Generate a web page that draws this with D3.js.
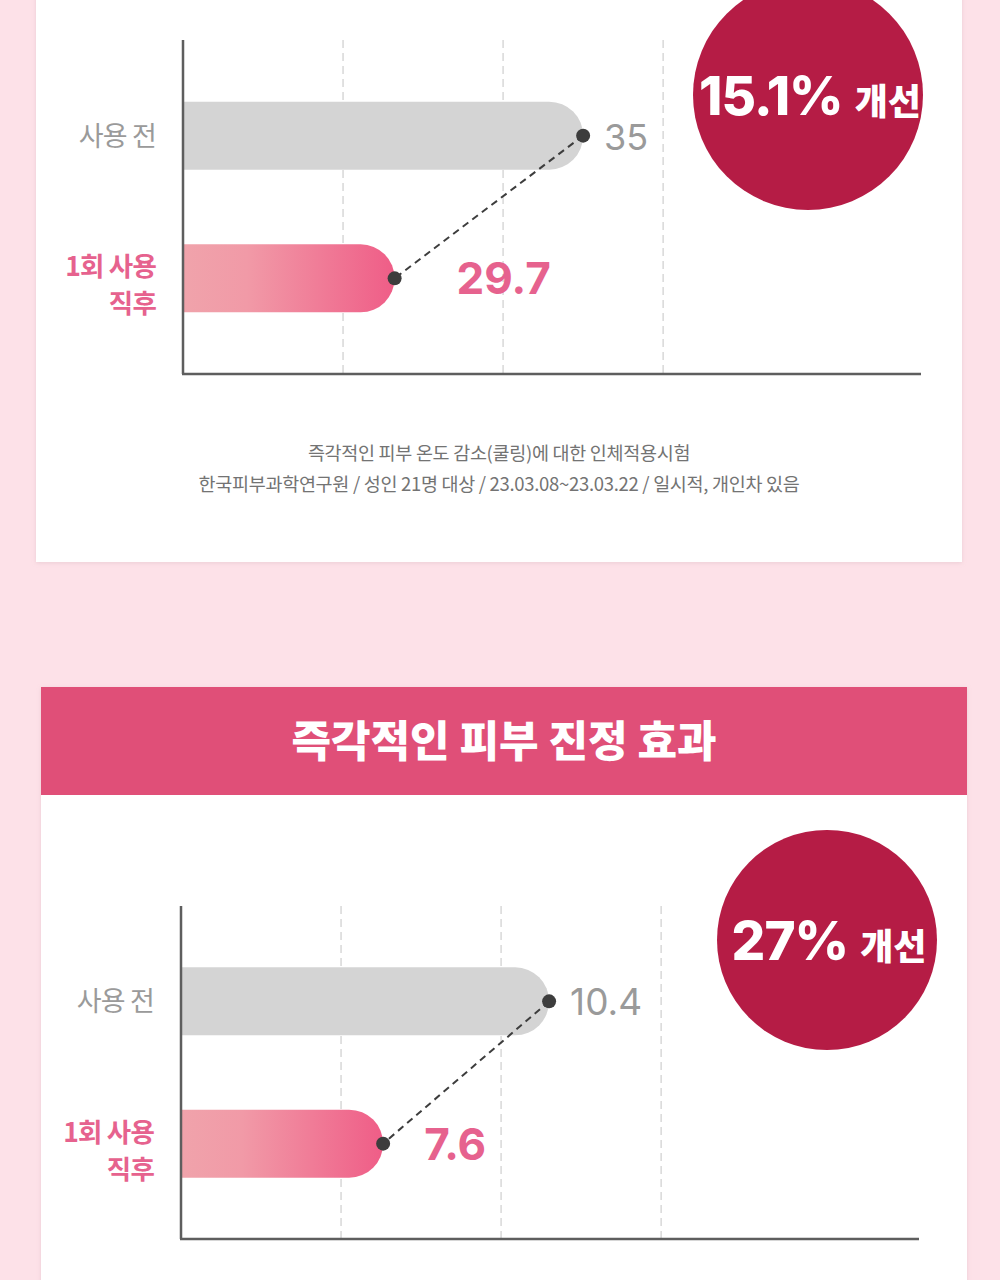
<!DOCTYPE html>
<html>
<head>
<meta charset="utf-8">
<script src="https://cdn.jsdelivr.net/npm/d3@7"></script>
<style>
  html, body { margin: 0; padding: 0; background: #fde1e8; }
  svg { display: block; }
</style>
</head>
<body>
<div id="chart"></div>
<script>
// ---------- DATA ----------
const categories = ["사용 전", "1회 사용 직후"];
const categoryLines = [["사용 전"], ["1회 사용", "직후"]];
const coolingValues = [35, 29.7];
const soothingValues = [10.4, 7.6];
const coolingDomain = [23.75, 44.5];
const soothingDomain = [4.19, 16.64];
const coolingGrid = [28.25, 32.75, 37.25];
const soothingGrid = [6.89, 9.59, 12.29];
const valueLabels1 = ["35", "29.7"];
const valueLabels2 = ["10.4", "7.6"];
const improvementPct = ["15.1%", "27%"];
const improvementWord = "개선";
const sectionTitle = "즉각적인 피부 진정 효과";
const footnotes = [
  "즉각적인 피부 온도 감소(쿨링)에 대한 인체적용시험",
  "한국피부과학연구원 / 성인 21명 대상 / 23.03.08~23.03.22 / 일시적, 개인차 있음"
];

// ---------- STYLE ----------
const W = 1000, H = 1280;
const KR = "'Noto Sans CJK KR', 'Noto Sans', sans-serif";
const NUM = "Inter, 'Noto Sans CJK KR', sans-serif";
const pinkText = "#e6628e";
const grayText = "#9a9a9a";
const circleColor = "#b51c45";

const svg = d3.select("#chart").append("svg")
  .attr("width", W).attr("height", H);

const defs = svg.append("defs");
const grad = defs.append("linearGradient").attr("id", "pinkGrad")
  .attr("x1", "0%").attr("x2", "100%").attr("y1", "0%").attr("y2", "0%");
grad.append("stop").attr("offset", "0%").attr("stop-color", "#f0a3ab");
grad.append("stop").attr("offset", "30%").attr("stop-color", "#f19aa7");
grad.append("stop").attr("offset", "100%").attr("stop-color", "#ef5d87");

const sh = defs.append("filter").attr("id", "cardShadow")
  .attr("x", "-5%").attr("y", "-5%").attr("width", "110%").attr("height", "110%");
sh.append("feDropShadow").attr("dx", 0).attr("dy", 1).attr("stdDeviation", 2)
  .attr("flood-color", "#c9a9b1").attr("flood-opacity", 0.35);

// background
svg.append("rect").attr("width", W).attr("height", H).attr("fill", "#fde1e8");

// cards
svg.append("rect").attr("x", 36).attr("y", -20).attr("width", 926).attr("height", 582)
  .attr("fill", "#fff").attr("filter", "url(#cardShadow)");
svg.append("rect").attr("x", 41).attr("y", 687).attr("width", 926).attr("height", 620)
  .attr("fill", "#fff").attr("filter", "url(#cardShadow)");
svg.append("rect").attr("x", 41).attr("y", 687).attr("width", 926).attr("height", 108)
  .attr("fill", "#e04f78");
svg.append("text").attr("x", 504).attr("y", 757)
  .attr("text-anchor", "middle").attr("fill", "#fff")
  .attr("font-family", KR).attr("font-weight", 900).attr("font-size", 43)
  .text(sectionTitle);

// footnotes
svg.selectAll("text.foot").data(footnotes).enter().append("text")
  .attr("class", "foot")
  .attr("x", 499).attr("y", (d, i) => 460 + i * 31)
  .attr("text-anchor", "middle").attr("fill", "#737373")
  .attr("font-family", KR).attr("font-size", 18.5)
  .attr("letter-spacing", -0.3)
  .text(d => d);

function drawChart(cfg) {
  const g = svg.append("g");
  const x = d3.scaleLinear().domain(cfg.domain).range([cfg.x0, cfg.x1]);
  const y = d3.scalePoint().domain(categories).range([cfg.yTop, cfg.yBot]).padding(0.67);
  const barH = 68, r = barH / 2;

  // grid
  g.selectAll("line.grid").data(cfg.grid).enter().append("line")
    .attr("x1", d => x(d)).attr("x2", d => x(d))
    .attr("y1", cfg.yTop).attr("y2", cfg.yBot)
    .attr("stroke", "#d8d8d8").attr("stroke-width", 1.5)
    .attr("stroke-dasharray", "8,5");

  // bars
  g.selectAll("path.bar").data(cfg.values).enter().append("path")
    .attr("d", (d, i) => {
      const x0 = x(cfg.domain[0]), x1 = x(d), y0 = y(categories[i]) - barH / 2;
      return `M${x0},${y0} H${x1 - r} A${r},${r} 0 0 1 ${x1 - r},${y0 + barH} H${x0} Z`;
    })
    .attr("fill", (d, i) => i === 0 ? "#d4d4d4" : "url(#pinkGrad)");

  // axes
  g.append("line").attr("x1", cfg.x0).attr("x2", cfg.x0)
    .attr("y1", cfg.yTop).attr("y2", cfg.yBot)
    .attr("stroke", "#5e5e5e").attr("stroke-width", 2.5);
  g.append("line").attr("x1", cfg.x0 - 1).attr("x2", cfg.x1)
    .attr("y1", cfg.yBot).attr("y2", cfg.yBot)
    .attr("stroke", "#5e5e5e").attr("stroke-width", 2.5);

  // connector
  const pts = cfg.values.map((v, i) => [x(v), y(categories[i])]);
  g.append("line")
    .attr("x1", pts[0][0]).attr("y1", pts[0][1])
    .attr("x2", pts[1][0]).attr("y2", pts[1][1])
    .attr("stroke", "#3d3d3d").attr("stroke-width", 2)
    .attr("stroke-dasharray", "7,5");
  g.selectAll("circle.dot").data(pts).enter().append("circle")
    .attr("cx", d => d[0]).attr("cy", d => d[1]).attr("r", 7)
    .attr("fill", "#3d3d3d");

  // value labels
  g.selectAll("text.val").data(cfg.values).enter().append("text")
    .attr("x", (d, i) => x(d) + (i === 0 ? 21 : cfg.pinkGap))
    .attr("y", (d, i) => y(categories[i]) + (i === 0 ? 14 : 16))
    .attr("fill", (d, i) => i === 0 ? grayText : pinkText)
    .attr("font-family", NUM)
    .attr("font-weight", (d, i) => i === 0 ? 400 : 700)
    .attr("font-size", (d, i) => i === 0 ? cfg.grayFs : cfg.pinkFs)
    .text((d, i) => cfg.labels[i]);

  // category labels
  categories.forEach((c, i) => {
    const lines = categoryLines[i];
    const cy = y(c);
    lines.forEach((l, k) => {
      const ly = lines.length === 1 ? cy + 10 : cy - 2 + k * 37;
      g.append("text")
        .attr("x", cfg.x0 - 27).attr("y", ly)
        .attr("text-anchor", "end")
        .attr("fill", i === 0 ? grayText : pinkText)
        .attr("font-family", KR)
        .attr("font-weight", i === 0 ? 400 : 700)
        .attr("font-size", i === 0 ? 27 : 26.5)
        .attr("letter-spacing", -0.8)
        .text(l);
    });
  });

  // improvement circle
  g.append("circle").attr("cx", cfg.cx).attr("cy", cfg.cy).attr("r", cfg.cr)
    .attr("fill", circleColor);
  const t = g.append("text").attr("x", cfg.cx + 2).attr("y", cfg.cy + 20)
    .attr("text-anchor", "middle").attr("fill", "#fff");
  t.append("tspan").attr("font-family", NUM).attr("font-size", 53)
    .attr("font-weight", 800).attr("letter-spacing", -1).text(cfg.pct);
  t.append("tspan").attr("font-family", KR).attr("font-size", 36)
    .attr("font-weight", 900).attr("dx", 12).text(improvementWord);
}

drawChart({
  values: coolingValues, labels: valueLabels1, domain: coolingDomain, grid: coolingGrid,
  x0: 183, x1: 921, yTop: 40, yBot: 374,
  cx: 808, cy: 95, cr: 115, pct: improvementPct[0],
  pinkGap: 62, grayFs: 36, pinkFs: 44
});
drawChart({
  values: soothingValues, labels: valueLabels2, domain: soothingDomain, grid: soothingGrid,
  x0: 181, x1: 919, yTop: 906, yBot: 1239,
  cx: 827, cy: 940, cr: 110, pct: improvementPct[1],
  pinkGap: 41, grayFs: 37, pinkFs: 44
});
</script>
</body>
</html>
